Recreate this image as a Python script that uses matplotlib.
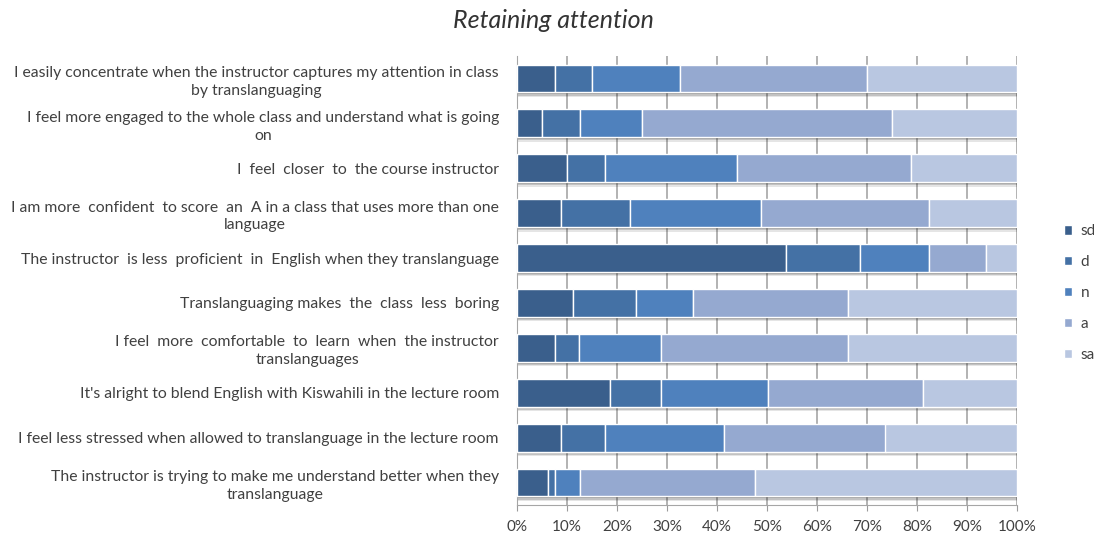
import matplotlib
matplotlib.use("Agg")
import matplotlib.pyplot as plt
import numpy as np

title = "Retaining attention"
categories = [
    "I easily concentrate when the instructor captures my attention in class\nby translanguaging",
    "I feel more engaged to the whole class and understand what is going\non",
    "I  feel  closer  to  the course instructor",
    "I am more  confident  to score  an  A in a class that uses more than one\nlanguage",
    "The instructor  is less  proficient  in  English when they translanguage",
    "Translanguaging makes  the  class  less  boring",
    "I feel  more  comfortable  to  learn  when  the instructor\ntranslanguages",
    "It's alright to blend English with Kiswahili in the lecture room",
    "I feel less stressed when allowed to translanguage in the lecture room",
    "The instructor is trying to make me understand better when they\ntranslanguage",
]
series_names = ["sd", "d", "n", "a", "sa"]
sd = [7.5, 5.0, 9.9, 8.7, 53.8, 11.2, 7.5, 18.6, 8.7, 6.1]
d = [7.5, 7.5, 7.6, 13.9, 14.7, 12.6, 4.9, 10.2, 8.8, 1.4]
n = [17.5, 12.5, 26.4, 26.1, 13.9, 11.3, 16.4, 21.3, 23.8, 5.1]
a = [37.5, 50.0, 34.9, 33.7, 11.3, 31.1, 37.4, 31.1, 32.4, 35.0]
sa = [30.0, 25.0, 21.2, 17.6, 6.3, 33.8, 33.8, 18.8, 26.3, 52.4]
xticks = [0, 10, 20, 30, 40, 50, 60, 70, 80, 90, 100]
xticklabels = ["0%", "10%", "20%", "30%", "40%", "50%", "60%", "70%", "80%", "90%", "100%"]

colors = ["#3A5F8C", "#4471A5", "#4F81BD", "#95A9D0", "#B9C7E1"]

plt.rcParams['font.family'] = ['Lato', 'DejaVu Sans']

fig = plt.figure(figsize=(10.94, 5.38), dpi=100)
ax = fig.add_axes([517/1094, 33/538, 500/1094, 449/538])

data = [sd, d, n, a, sa]
y = np.arange(len(categories))
h = 0.62

# soft shadow beneath bars
totals = np.sum(np.array(data), axis=0)
for k, alpha in [(0.10, 0.10), (0.07, 0.15), (0.04, 0.2)]:
    ax.barh(y + k, totals, height=h, left=0, color="#000000", alpha=alpha, zorder=2, linewidth=0)

left = np.zeros(len(categories))
for vals, name, c in zip(data, series_names, colors):
    ax.barh(y, vals, height=h, left=left, color=c, edgecolor="white", linewidth=1.0, label=name, zorder=3)
    left += np.array(vals)

ax.set_xlim(0, 100)
ax.set_ylim(len(categories) - 0.5, -0.5)
ax.set_xticks(xticks)
ax.set_xticklabels(xticklabels, fontsize=11, color="#404040")
ax.set_yticks(y)
ax.set_yticklabels(categories, fontsize=11.3, color="#404040", multialignment="center",
                   linespacing=1.35)
ax.tick_params(axis="y", length=0, pad=13)
ax.tick_params(axis="x", length=4, color="#9A9A9A", pad=7)
ax.grid(axis="x", color="#A6A6A6", linewidth=1.2, zorder=0)
ax.set_axisbelow(True)
for s in ["top", "right"]:
    ax.spines[s].set_visible(False)
for s in ["left", "bottom"]:
    ax.spines[s].set_color("#A6A6A6")

fig.text(553/1094, 1 - 20/538, title, fontsize=18, style="italic", ha="center", va="center", color="#333333")

leg = ax.legend(loc="center left", bbox_to_anchor=(1.066, 0.472), frameon=False, fontsize=11,
                handlelength=0.55, handleheight=0.55, labelspacing=1.1, handletextpad=0.55)
for t in leg.get_texts():
    t.set_color("#404040")

fig.savefig("out.png", dpi=100)
